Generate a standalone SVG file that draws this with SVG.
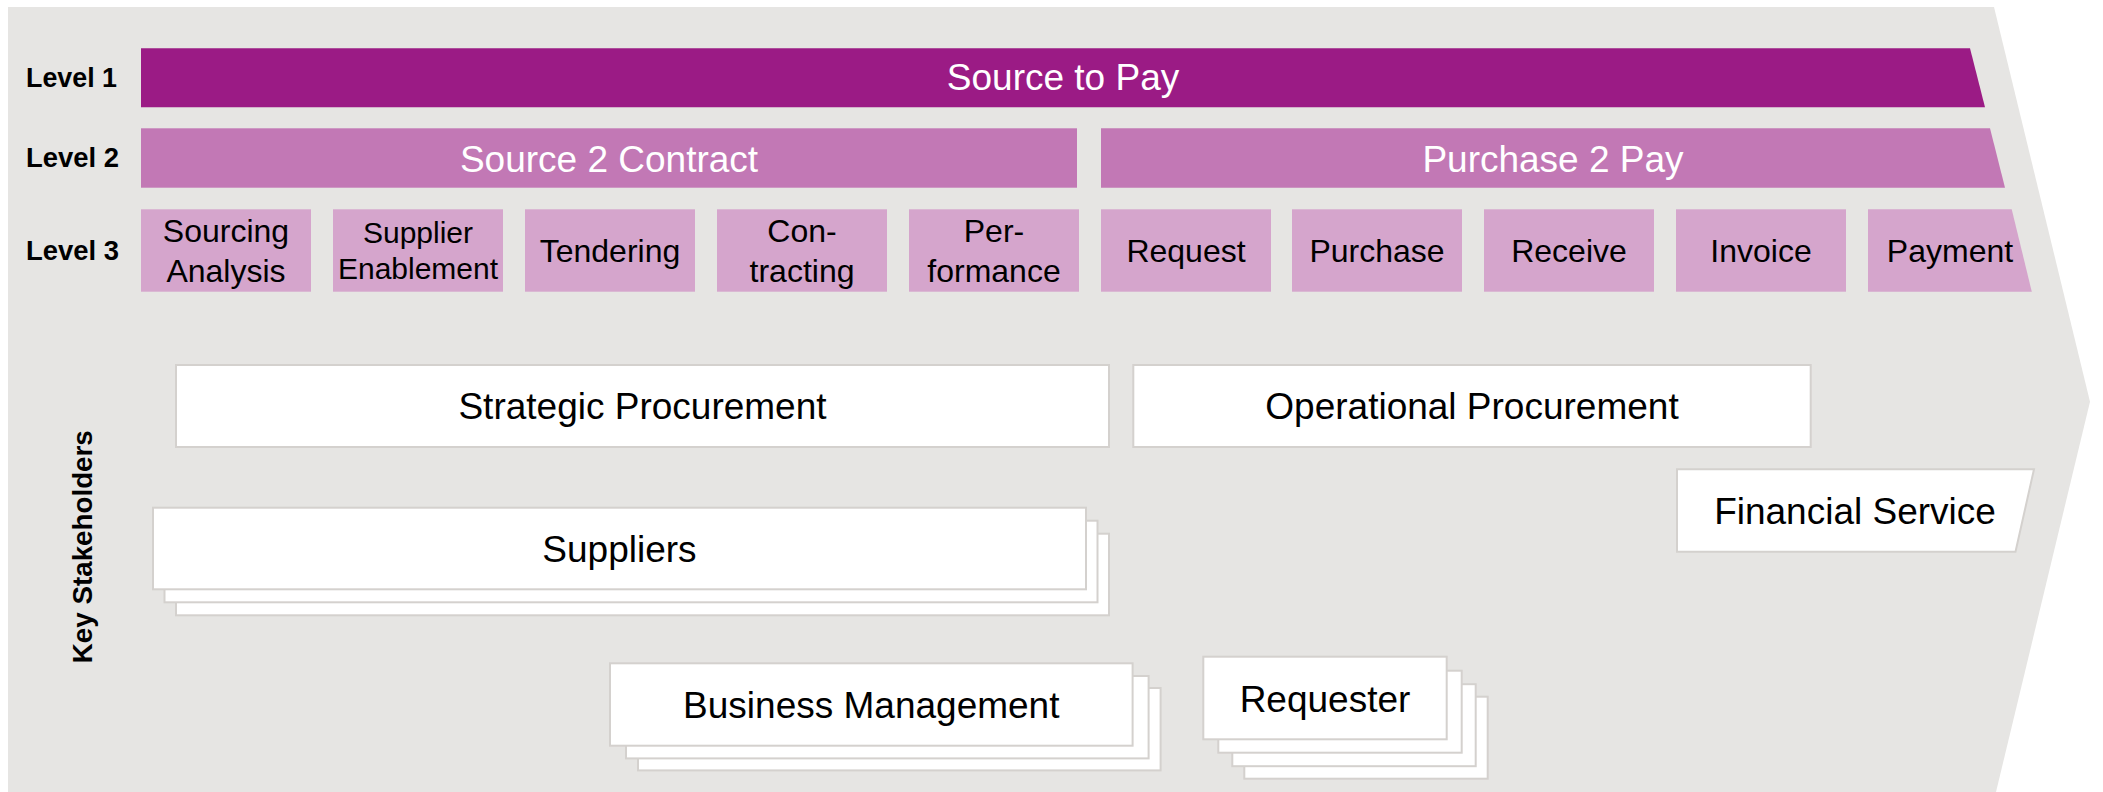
<svg xmlns="http://www.w3.org/2000/svg" width="2103" height="792" viewBox="0 0 2103 792">
<style>
text{font-family:"Liberation Sans",Arial,sans-serif;}
.lvl{font-size:28px;font-weight:bold;fill:#000;}
.l1{fill:#9B1B85;}
.l2{fill:#C278B5;}
.l3{fill:#D5A5CC;}
.wt{fill:#fff;font-size:37px;text-anchor:middle;}
.t3{fill:#000;font-size:32px;text-anchor:middle;}
.box{fill:#fff;stroke:#D4D1CE;stroke-width:2;}
.bt{fill:#000;font-size:37px;text-anchor:middle;}
</style>
<g id="background">
<polygon points="8,7 1994,7 2090,401.7 1996,792 8,792" fill="#E6E5E3"/>
</g>
<g id="level-labels">
<text class="lvl" x="26" y="86.7" textLength="91" lengthAdjust="spacingAndGlyphs">Level 1</text>
<text class="lvl" x="26" y="166.7" textLength="93" lengthAdjust="spacingAndGlyphs">Level 2</text>
<text class="lvl" x="26" y="260" textLength="93" lengthAdjust="spacingAndGlyphs">Level 3</text>
</g>
<g id="level1-source-to-pay">
<polygon class="l1" points="141,48.3 1970,48.3 1985,107.3 141,107.3"/>
<text class="wt" x="1063" y="90">Source to Pay</text>
</g>
<g id="level2-source-2-contract">
<rect class="l2" x="141" y="128.3" width="936" height="59.4"/>
<text class="wt" x="609" y="171.5">Source 2 Contract</text>
</g>
<g id="level2-purchase-2-pay">
<polygon class="l2" points="1101,128.3 1990,128.3 2005,187.7 1101,187.7"/>
<text class="wt" x="1553" y="171.5">Purchase 2 Pay</text>
</g>
<g id="l3-sourcing-analysis">
<rect class="l3" x="141" y="209.3" width="170" height="82.4"/>
<text class="t3" x="226" y="241.7">Sourcing</text>
<text class="t3" x="226" y="281.7">Analysis</text>
</g>
<g id="l3-supplier-enablement">
<rect class="l3" x="333" y="209.3" width="170" height="82.4"/>
<text class="t3" x="418" y="243" style="font-size:30px">Supplier</text>
<text class="t3" x="418" y="279.3" style="font-size:30px">Enablement</text>
</g>
<g id="l3-tendering">
<rect class="l3" x="525" y="209.3" width="170" height="82.4"/>
<text class="t3" x="610" y="262">Tendering</text>
</g>
<g id="l3-contracting">
<rect class="l3" x="717" y="209.3" width="170" height="82.4"/>
<text class="t3" x="802" y="241.7">Con-</text>
<text class="t3" x="802" y="281.7">tracting</text>
</g>
<g id="l3-performance">
<rect class="l3" x="909" y="209.3" width="170" height="82.4"/>
<text class="t3" x="994" y="241.7">Per-</text>
<text class="t3" x="994" y="281.7">formance</text>
</g>
<g id="l3-request">
<rect class="l3" x="1101" y="209.3" width="170" height="82.4"/>
<text class="t3" x="1186" y="262">Request</text>
</g>
<g id="l3-purchase">
<rect class="l3" x="1292" y="209.3" width="170" height="82.4"/>
<text class="t3" x="1377" y="262">Purchase</text>
</g>
<g id="l3-receive">
<rect class="l3" x="1484" y="209.3" width="170" height="82.4"/>
<text class="t3" x="1569" y="262">Receive</text>
</g>
<g id="l3-invoice">
<rect class="l3" x="1676" y="209.3" width="170" height="82.4"/>
<text class="t3" x="1761" y="262">Invoice</text>
</g>
<g id="l3-payment">
<polygon class="l3" points="1868,209.3 2011.7,209.3 2031.8,291.7 1868,291.7"/>
<text class="t3" x="1950" y="262">Payment</text>
</g>
<g id="key-stakeholders-label">
<text class="lvl" transform="translate(91.5,546.7) rotate(-90)" x="0" y="0" text-anchor="middle" textLength="233" lengthAdjust="spacingAndGlyphs">Key Stakeholders</text>
</g>
<g id="strategic-procurement">
<rect class="box" x="176" y="365" width="933" height="82"/>
<text class="bt" x="642.5" y="419">Strategic Procurement</text>
</g>
<g id="operational-procurement">
<rect class="box" x="1133.3" y="365" width="677.4" height="82"/>
<text class="bt" x="1472" y="419">Operational Procurement</text>
</g>
<g id="financial-service">
<polygon class="box" points="1677,469.3 2034,469.3 2015.5,551.7 1677,551.7"/>
<text class="bt" x="1855" y="524">Financial Service</text>
</g>
<g id="suppliers">
<rect class="box" x="176" y="533.7" width="933" height="81.6"/>
<rect class="box" x="164.5" y="520.7" width="933" height="81.6"/>
<rect class="box" x="153" y="507.7" width="933" height="81.6"/>
<text class="bt" x="619.5" y="561.7">Suppliers</text>
</g>
<g id="business-management">
<rect class="box" x="638" y="688" width="522.6" height="82.4"/>
<rect class="box" x="626" y="676" width="522.6" height="82.4"/>
<rect class="box" x="610" y="663.3" width="522.6" height="82.4"/>
<text class="bt" x="871.3" y="717.7">Business Management</text>
</g>
<g id="requester">
<rect class="box" x="1244.3" y="696.7" width="243.4" height="82"/>
<rect class="box" x="1232.3" y="684.2" width="243.4" height="82"/>
<rect class="box" x="1218.3" y="670.7" width="243.4" height="82"/>
<rect class="box" x="1203.3" y="656.7" width="243.4" height="82.6"/>
<text class="bt" x="1325" y="712.3">Requester</text>
</g>
</svg>
